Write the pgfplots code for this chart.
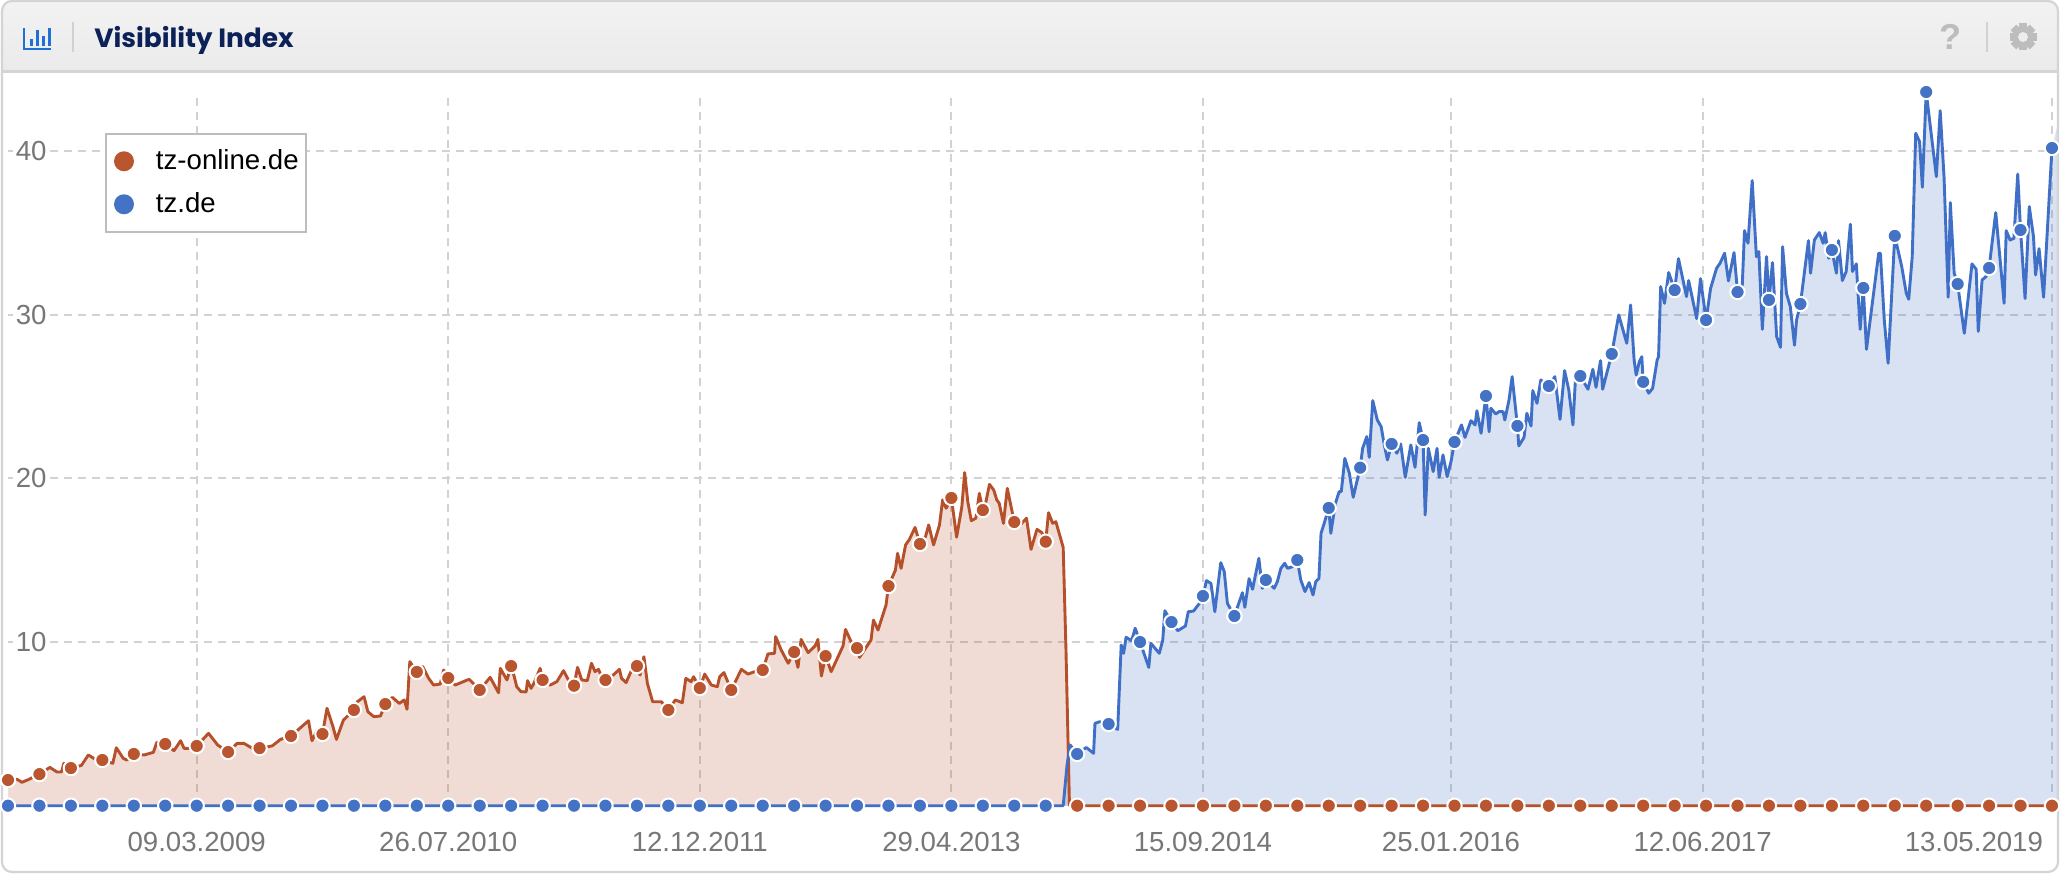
\documentclass[border=0pt]{standalone}
\usepackage{pgfplots}
\pgfplotsset{compat=1.18}
\usepackage{pgfplotstable}
\usepackage{fontspec}
\setmainfont{Liberation Sans}
\newfontfamily\titlefont{Poppins}
\definecolor{rc}{HTML}{B5502B}
\definecolor{rm}{HTML}{B9552F}
\definecolor{bc}{HTML}{3F6FC6}
\definecolor{bm}{HTML}{4472C4}
\definecolor{gridc}{HTML}{D2D2D2}
\definecolor{tickc}{HTML}{777777}
\definecolor{frame}{HTML}{D4D4D4}
\definecolor{navy}{HTML}{0B2157}
\definecolor{iconb}{HTML}{1F6FD6}
\definecolor{icong}{HTML}{BDBDBD}

\pgfplotstableread{
w v
-54 1.57
-51.4 1.61
-50 1.43
-48 1.61
-45 1.93
-42 2.34
-40 2.06
-38.7 2.06
-38 2.59
-36 2.30
-33 2.46
-31 3.10
-29 2.83
-27 2.79
-24 2.59
-23 3.54
-21 2.89
-20 2.79
-18 3.16
-15 3.10
-12.4 3.26
-11.4 3.87
-9 3.77
-6.5 3.36
-4.6 3.97
-3.6 3.50
-1.7 3.50
0 3.65
3.4 4.42
6 3.71
9 3.28
11.6 3.81
13.5 3.81
16 3.50
18 3.52
21.6 3.65
24 4.05
27 4.26
32 5.19
33 3.97
34.5 4.62
36 4.38
37.3 5.95
39 4.83
40 4.05
42 5.23
45 5.85
46 6.35
47.9 6.66
49 5.74
50.7 5.44
52.6 5.48
54 6.21
56 6.62
58 6.25
59.4 6.46
60.2 5.89
61 8.80
63 8.17
64.7 8.49
66.4 7.78
67.8 7.37
69.7 7.43
70.7 8.29
72 7.80
74 7.37
77 7.64
78 7.72
81 7.07
84 7.84
86.4 6.90
86.9 8.39
88.8 7.68
90 8.53
90.9 7.88
91.6 7.27
92.8 6.97
94.3 6.95
94.7 7.64
95.7 7.17
96.4 7.43
98.3 8.39
99 7.68
101.2 7.37
103.1 7.58
105 8.25
106.4 7.68
108 7.33
109 8.45
110.2 7.68
111.8 7.64
113 8.70
114 8.19
115 8.33
115.7 7.98
117 7.68
119.2 7.98
121 8.33
121.6 7.78
122.9 7.52
124.5 8.29
126 8.53
126.9 7.98
128 9.10
129 7.47
130.5 6.35
133 6.35
135 5.85
137 6.46
139 6.29
140 7.78
141.5 7.58
142.2 7.88
144 7.19
145.4 8.04
147.3 7.37
149 7.27
149.7 7.88
150.9 8.13
153 7.07
155.9 8.33
157.8 8.04
159.7 8.19
162 8.29
163.5 9.27
165.4 9.31
165.7 10.33
167.3 9.51
169.3 8.70
171 9.39
172.1 8.45
173 10.16
175 9.35
177 9.76
177.8 10.16
178.8 7.92
180 9.14
181.6 8.19
185 9.76
185.7 10.77
187.3 10.02
189 9.63
189.7 9.06
191.6 9.67
193 10.12
193.7 11.34
195 10.73
197.3 12.26
198 13.42
200 14.40
200.6 15.42
201.6 14.50
202.9 15.93
204 16.27
205.6 17.00
207 15.99
208.6 16.44
209.5 17.15
210.9 15.93
212.6 17.15
213.5 18.68
214.5 18.17
216 18.80
217.5 16.40
219 18.27
219.8 20.35
220.7 18.57
221.7 17.41
223 17.56
224 19.08
225 18.06
225.7 18.37
226.9 19.63
228.1 19.29
229 18.68
229.7 18.47
230.9 17.25
232 19.39
234 17.33
235.4 17.09
237.5 17.56
238.8 15.66
240.5 16.88
241.9 16.68
243 16.13
243.8 17.90
245 17.25
245.9 17.35
248 15.78
248.8 9.51
249.8 0
531 0
}\redline

\pgfplotstableread{
w v
-54 0
248 0
249.1 2.48
250 3.71
252 3.16
254.6 3.56
256.7 3.20
257.1 5.03
258.4 5.13
261 4.99
263.6 4.66
264.6 9.82
265.3 9.31
266 10.29
267.6 10.08
268.6 10.84
270 10.00
272.5 8.45
273.1 9.92
275.5 9.31
276.5 10.12
277.1 11.91
279 11.22
280.8 10.69
283 10.98
283.8 11.85
285.3 11.89
287 12.36
288 12.81
289 13.75
290.3 13.58
291.4 11.85
293.1 14.85
294.1 14.30
295 12.36
297 11.59
299.3 13.01
300 12.12
301.2 13.87
302.2 13.22
304 15.11
305 13.28
306 13.79
308.4 13.28
309.3 13.69
310.3 14.50
311.4 14.81
312.2 14.50
313.6 14.60
315 15.01
316 13.79
317.2 13.08
318.4 13.63
319.5 12.87
320.3 13.69
321.2 13.89
321.8 16.64
322.7 17.25
324 18.19
324.6 16.64
325.9 18.47
327 19.19
327.6 19.19
328.6 21.22
329.9 20.31
331 18.84
333 20.65
333.7 21.83
334.9 22.55
335.6 21.28
336.6 24.75
337.9 23.56
339 23.16
339.9 22.04
340.8 21.12
342 22.10
343.5 21.53
344.6 22.10
345.9 20.06
347.5 22.04
348.7 20.67
349.9 23.40
351 22.34
351.6 17.76
352.5 21.83
353.9 20.41
355 21.83
355.6 20.06
356.7 21.43
357.9 20.10
359 21.02
360 22.22
362 23.26
363 22.50
364.7 23.52
365.9 23.26
366.4 24.13
367.6 22.75
369 25.03
369.9 22.85
370.4 24.28
371.8 23.93
372.7 24.07
373.9 24.07
374.4 23.56
375.6 24.79
376.5 26.21
378 23.20
378.4 21.98
379.9 22.50
380.7 23.97
381.9 23.20
382.4 25.36
383.6 24.58
384.7 26.01
387 25.64
388.7 26.21
390.2 23.60
391.5 26.58
392.7 25.40
393.9 23.26
394.6 26.01
396 26.25
398.2 25.44
399.6 26.66
400.5 25.56
401.8 27.19
402.4 25.44
405 27.60
407 29.98
409.3 28.25
410.4 30.59
411.4 27.23
412 26.31
412.9 27.13
413.6 27.43
414 25.89
415.6 25.20
416.7 25.50
418 27.23
418.4 27.43
419 31.71
420.1 30.69
421.3 32.57
423 31.50
424.1 33.42
426.4 31.10
427 32.08
429.3 29.76
430.4 32.20
432 29.67
433.3 31.61
435 32.83
436 33.14
437.3 33.75
438.4 32.06
440 33.79
441 31.38
442.3 31.50
443 35.13
444 34.36
445.2 38.19
446.4 33.54
447.1 33.85
448.1 29.10
449.3 33.54
450 30.90
451 33.18
452.2 28.66
453.3 28.00
453.9 34.15
455 31.30
456.1 30.49
457.3 28.13
457.9 29.67
459 30.65
461.3 34.52
461.9 32.53
463 34.56
464.4 35.01
465.5 34.36
466.1 35.01
467.1 33.44
468 33.95
469.3 32.53
469.9 34.52
471 32.08
472.1 32.63
473.3 35.52
473.9 32.63
475 33.10
476.1 29.10
477 31.63
477.9 27.88
481.4 33.75
481.9 33.75
483 29.67
484.1 27.03
486 34.81
488 32.93
489.3 31.30
490 30.94
491 33.54
492 41.08
493.1 40.57
493.9 37.78
495 43.60
497.9 38.43
499 42.46
500.1 38.43
501.3 31.06
501.9 36.84
503 32.53
504 31.87
505.9 28.86
508.1 33.10
509.3 32.77
509.9 28.98
511 32.12
512.1 32.32
513 32.85
514.9 36.23
517.3 30.69
517.9 35.13
519 34.56
520.1 34.66
521.2 38.59
522 35.17
523.3 30.98
524.5 36.60
525.7 34.77
526.3 32.42
527.3 34.03
528.6 31.06
531 40.18
532.4 41.40
}\blueline

\pgfplotstableread{
w r b
-54 1.57 0
-45 1.93 0
-36 2.30 0
-27 2.79 0
-18 3.16 0
-9 3.77 0
0 3.65 0
9 3.28 0
18 3.52 0
27 4.26 0
36 4.38 0
45 5.85 0
54 6.21 0
63 8.17 0
72 7.80 0
81 7.07 0
90 8.53 0
99 7.68 0
108 7.33 0
117 7.68 0
126 8.53 0
135 5.85 0
144 7.19 0
153 7.07 0
162 8.29 0
171 9.39 0
180 9.14 0
189 9.63 0
198 13.42 0
207 15.99 0
216 18.80 0
225 18.06 0
234 17.33 0
243 16.13 0
252 0 3.16
261 0 4.99
270 0 10.00
279 0 11.22
288 0 12.81
297 0 11.59
306 0 13.79
315 0 15.01
324 0 18.19
333 0 20.65
342 0 22.10
351 0 22.34
360 0 22.22
369 0 25.03
378 0 23.20
387 0 25.64
396 0 26.25
405 0 27.60
414 0 25.89
423 0 31.50
432 0 29.67
441 0 31.38
450 0 30.90
459 0 30.65
468 0 33.95
477 0 31.63
486 0 34.81
495 0 43.60
504 0 31.87
513 0 32.85
522 0 35.17
531 0 40.18
}\marks

\begin{document}
\begin{tikzpicture}[x=0.5pt,y=0.5pt]
\useasboundingbox (0,0) rectangle (2061,874);
% frame and header
\fill[white] (0,0) rectangle (2061,874);
\begin{scope}
\clip[rounded corners=6pt] (2,2) rectangle (2058,873);
\shade[top color=white!95!black, bottom color=white!92!black] (2,873) rectangle (2058,803);
\end{scope}
\draw[frame,line width=1.1pt,rounded corners=5pt] (2,2) rectangle (2058,873);
\draw[frame,line width=1.2pt] (2,802.5) -- (2058,802.5);
% left icon
\fill[iconb] (23,826) rectangle (51,823.5);
\fill[iconb] (23,826) rectangle (25,846);
\fill[iconb] (30,828) rectangle (33,835);
\fill[iconb] (36,828) rectangle (39,844);
\fill[iconb] (42,828) rectangle (44.5,838);
\fill[iconb] (47.5,828) rectangle (50.5,846);
\draw[icong!70!white,line width=1pt] (73,822) -- (73,852);
\node[anchor=base west,inner sep=0pt,text=navy,font=\titlefont\bfseries\fontsize{13.2pt}{15pt}\selectfont] at (94,826) {Visibility Index};
% right icons
\node[anchor=center,inner sep=0pt,text=icong,font=\bfseries\fontsize{18pt}{20pt}\selectfont] at (1950,837) {?};
\draw[icong!70!white,line width=1pt] (1987,822) -- (1987,852);
\fill[icong] (2023,837) circle (10.5);
\foreach \a in {0,45,...,315}{
  \fill[icong,rotate around={\a:(2023,837)}] (2019,837) rectangle (2027,850.5);
}
\fill[white!93!black] (2023,837) circle (5);

\begin{axis}[
  at={(4pt,34.15pt)}, anchor=south west,
  scale only axis, width=1022pt, height=356.85pt,
  xmin=-54, xmax=531, ymin=0, ymax=43.6,
  clip=false,
  axis line style={draw=none}, tick style={draw=none},
  /pgf/number format/assume math mode=true,
  xtick={0,72,144,216,288,359,431},
  xticklabels={09.03.2009,26.07.2010,12.12.2011,29.04.2013,15.09.2014,25.01.2016,12.06.2017},
  extra x ticks={531},
  extra x tick labels={13.05.2019},
  extra x tick style={grid=major, xticklabel style={anchor=north east, xshift=-1pt}},
  ytick={10,20,30,40},
  yticklabel style={anchor=east, xshift=21pt, fill=white, inner sep=1.5pt, text=tickc, font=\fontsize{13.8pt}{15pt}\selectfont},
  xticklabel style={yshift=-9.5pt, text=tickc, font=\fontsize{13.8pt}{15pt}\selectfont},
  grid=major,
  grid style={gridc, line width=1pt, dash pattern=on 4pt off 3pt},
  legend style={at={(0.04746,0.9426)}, anchor=north west, draw=icong, line width=1pt, fill=white,
    font=\fontsize{13.8pt}{15pt}\selectfont, inner xsep=1.5pt, inner ysep=5.9pt, row sep=6pt, text=black},
  legend cell align=left,
  legend image code/.code={\fill[draw=none,#1] (7.5pt,0pt) circle (5pt); \path[draw=none,fill=none] (0pt,0pt) -- (21.5pt,0pt);},
]
\addlegendimage{fill=rm}
\addlegendentry{tz-online.de\hspace{4.6pt}}
\addlegendimage{fill=bm}
\addlegendentry{tz.de}

\addplot[forget plot, draw=none, fill=rc, fill opacity=0.2] table[x=w,y=v] {\redline} \closedcycle;
\addplot[forget plot, draw=none, fill=bm, fill opacity=0.2] table[x=w,y=v] {\blueline} \closedcycle;
\addplot[forget plot, rc, line width=1.45pt, line join=round] table[x=w,y=v] {\redline};
\addplot[forget plot, bc, line width=1.45pt, line join=round, restrict x to domain=-60:531] table[x=w,y=v] {\blueline};
\addplot[forget plot, only marks, mark=*, mark size=3.6pt, mark options={fill=rm, draw=white, line width=1pt}] table[x=w,y=r] {\marks};
\addplot[forget plot, only marks, mark=*, mark size=3.6pt, mark options={fill=bm, draw=white, line width=1pt}] table[x=w,y=b] {\marks};
\end{axis}
\end{tikzpicture}
\end{document}
